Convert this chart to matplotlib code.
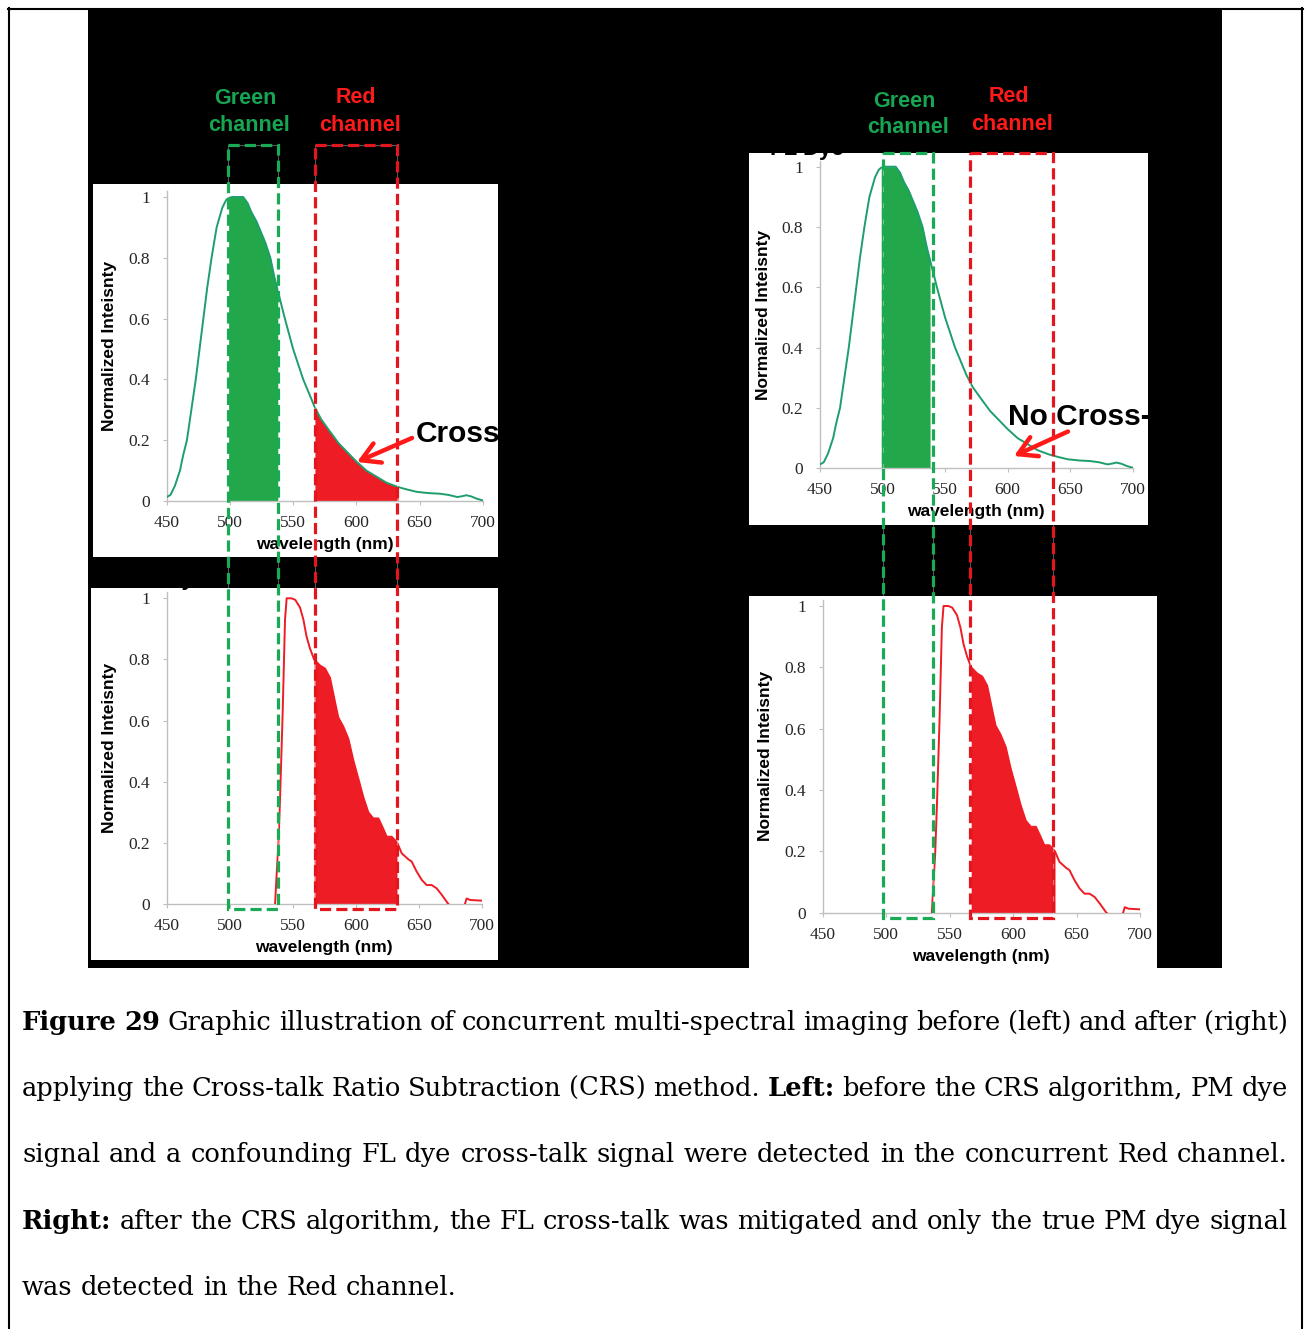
import numpy as np
import matplotlib.pyplot as plt
from matplotlib.patches import Rectangle
from matplotlib.transforms import blended_transform_factory

W, H = 1305, 1329

# FL dye emission (green)
fl_wl = np.array([450, 453, 456.5, 460.5, 463, 466, 469.5, 473, 476, 479, 482, 485.5, 489.5,
                  494, 497, 499, 502, 506, 510.5, 514, 517, 521, 524, 528, 532, 535, 538,
                  543.5, 550, 558, 563, 567, 572, 578, 586, 593, 600, 608, 616, 624, 633,
                  640, 648, 657, 666, 673, 680, 684, 687, 691, 695, 700])
fl_int = np.array([0.013, 0.02, 0.05, 0.10, 0.15, 0.20, 0.30, 0.40, 0.50, 0.60, 0.70, 0.80,
                   0.90, 0.965, 0.99, 0.997, 1.0, 1.0, 1.0, 0.98, 0.95, 0.92, 0.89, 0.85,
                   0.80, 0.74, 0.69, 0.60, 0.50, 0.40, 0.35, 0.31, 0.27, 0.235, 0.19, 0.16,
                   0.13, 0.10, 0.08, 0.06, 0.046, 0.038, 0.03, 0.026, 0.024, 0.02, 0.013,
                   0.016, 0.019, 0.015, 0.008, 0.002])
# PM dye emission (red), bottom panels
pm_wl = np.array([536, 537.3, 538.6, 540, 542, 543.9, 545.2, 549, 552, 555.8, 558.5, 561,
                  563.7, 567, 571.7, 575.7, 579.6, 583.6, 586.2, 590.2, 594.2, 598.1, 602.1,
                  606, 610, 614, 618, 621.4, 624.6, 628.6, 633, 636.5, 641.8, 644.4, 648.4,
                  652.4, 656.3, 660.3, 664.3, 668.3, 673.5, 680, 686, 688, 691, 700])
pm_int = np.array([0.0, 0.10, 0.19, 0.35, 0.62, 0.93, 1.0, 1.0, 0.995, 0.97, 0.93, 0.875,
                   0.836, 0.80, 0.78, 0.77, 0.74, 0.66, 0.61, 0.58, 0.54, 0.47, 0.41, 0.35,
                   0.30, 0.28, 0.28, 0.25, 0.22, 0.22, 0.20, 0.166, 0.146, 0.139, 0.106,
                   0.079, 0.062, 0.062, 0.051, 0.03, 0.0, -0.02, -0.01, 0.018, 0.013, 0.011])

xticks = [450, 500, 550, 600, 650, 700]
yticks = [0, 0.2, 0.4, 0.6, 0.8, 1]
ytick_labels = ['0', '0.2', '0.4', '0.6', '0.8', '1']
green_band = (499, 538)
red_band = (567, 633)
left_boxes = [(498.5, 538), (567, 632.5)]
right_boxes = [(500, 540), (570, 636)]

GREEN_LINE = '#1e9e6c'
GREEN_FILL = '#22a84a'
RED = '#ee1c24'
BOX_GREEN = '#1aaa55'
BOX_RED = '#e3161e'
TXT_GREEN = '#16a552'
TXT_RED = '#ff1a1a'

fig = plt.figure(figsize=(W / 100, H / 100), dpi=100)

def overlay(z):
    a = fig.add_axes([0, 0, 1, 1])
    a.set_xlim(0, W)
    a.set_ylim(H, 0)
    a.axis('off')
    a.set_zorder(z)
    a.patch.set_visible(False)
    return a

bg = overlay(0)
fg = overlay(5)

# frame and black background
bg.add_patch(Rectangle((88, 8), 1134, 960, fc='black', ec='none'))
bg.plot([9, 9], [8, H], color='black', lw=1.5)
bg.plot([1302, 1302], [8, H], color='black', lw=1.5)
bg.plot([8, 1303], [9, 9], color='black', lw=1.5)

panels = {
    'tl': Rectangle((93, 184), 405, 373, fc='white', ec='none'),
    'bl': Rectangle((91, 588), 407, 372, fc='white', ec='none'),
    'tr': Rectangle((749, 153), 399, 372, fc='white', ec='none'),
    'br': Rectangle((749, 596), 408, 372, fc='white', ec='none'),
}
for p in panels.values():
    bg.add_patch(p)

# dye titles hidden behind the black area
bg.text(770, 155, 'FL Dye', color='black', fontsize=16, fontweight='bold',
        family='Liberation Sans', va='baseline', zorder=3)
bg.text(126, 585, 'PM Dye', color='black', fontsize=16, fontweight='bold',
        family='Liberation Sans', va='baseline', zorder=3)


def spectrum_axes(x450, x700, y0, y1, wl, inten, color, fills):
    top = y0 - 1.02 * (y0 - y1)
    ax = fig.add_axes([x450 / W, 1 - y0 / H, (x700 - x450) / W, (y0 - top) / H])
    ax.set_zorder(2)
    ax.patch.set_visible(False)
    for (lo, hi), fc in fills:
        m = (wl >= lo) & (wl <= hi)
        ax.fill_between(wl[m], inten[m], 0, color=fc, lw=0, zorder=2)
    ax.plot(wl, inten, color=color, lw=1.4, zorder=3, solid_joinstyle='round')
    ax.set_xlim(450, 700)
    ax.set_ylim(0, 1.02)
    ax.set_xticks(xticks)
    ax.set_yticks(yticks)
    ax.set_yticklabels(ytick_labels)
    for s in ['top', 'right']:
        ax.spines[s].set_visible(False)
    for s in ['left', 'bottom']:
        ax.spines[s].set_color('#bfbfbf')
        ax.spines[s].set_linewidth(1)
    ax.tick_params(direction='out', length=3, color='#bfbfbf', labelsize=12.5,
                   labelcolor='#262626')
    ax.tick_params(axis='y', pad=9)
    ax.tick_params(axis='x', pad=7)
    for lab in ax.get_xticklabels() + ax.get_yticklabels():
        lab.set_family('Liberation Serif')
    ax.set_ylabel('Normalized Inteisnty', fontsize=12.5, fontweight='bold',
                  family='Liberation Sans')
    ax.set_xlabel('wavelength (nm)', fontsize=12.5, fontweight='bold',
                  family='Liberation Sans')
    ax.yaxis.set_label_coords(-0.158, 0.5)
    ax.xaxis.set_label_coords(0.5, -0.116)
    return ax


ax_tl = spectrum_axes(166.7, 482.7, 501, 197, fl_wl, fl_int, GREEN_LINE,
                      [(green_band, GREEN_FILL), (red_band, RED)])
ax_bl = spectrum_axes(166.7, 481.7, 904, 598.3, pm_wl, pm_int, RED,
                      [(red_band, RED)])
ax_tr = spectrum_axes(820, 1132.7, 468.3, 166.7, fl_wl, fl_int, GREEN_LINE,
                      [(green_band, GREEN_FILL)])
ax_br = spectrum_axes(822.7, 1140, 912.7, 606, pm_wl, pm_int, RED,
                      [(red_band, RED)])

# channel boxes spanning both panels of each column
for ax, bands, ytop, ybot in [(ax_tl, left_boxes, 145, 909), (ax_tr, right_boxes, 153, 918)]:
    tr = blended_transform_factory(ax.transData, fg.transData)
    for (lo, hi), c in zip(bands, [BOX_GREEN, BOX_RED]):
        fg.add_patch(Rectangle((lo, ytop), hi - lo, ybot - ytop, transform=tr, fill=False,
                               ec='white', lw=0.5, alpha=0.5, clip_on=False))
        fg.add_patch(Rectangle((lo, ytop), hi - lo, ybot - ytop, transform=tr, fill=False,
                               ec=c, lw=2.3, ls=(0, (3.5, 1.6)), clip_on=False))

# channel labels
chan_labels = [
    ('Green', 245.7, 103.5, TXT_GREEN), ('channel', 249.4, 131, TXT_GREEN),
    ('Red', 356, 103, TXT_RED), ('channel', 360, 130.7, TXT_RED),
    ('Green', 904, 106.7, TXT_GREEN), ('channel', 908.3, 133.3, TXT_GREEN),
    ('Red', 1009, 102.3, TXT_RED), ('channel', 1012.3, 130, TXT_RED),
]
for s, x, y, c in chan_labels:
    fg.text(x, y, s, color=c, fontsize=15.5, fontweight='bold', family='Liberation Sans',
            ha='center', va='baseline')

# cross-talk annotations
for s, x, y, panel in [('Cross-talk', 416, 441.5, 'tl'), ('No Cross-talk', 1008, 425, 'tr')]:
    t = fg.text(x, y, s, color='black', fontsize=21.5, fontweight='bold',
                family='Liberation Sans', va='baseline')
    t.set_clip_path(panels[panel])

for tail, tip in [((412, 438), (357, 462)), ((1068, 431.5), (1014, 456))]:
    fg.annotate('', xy=tip, xytext=tail,
                arrowprops=dict(arrowstyle='->, head_length=1.3, head_width=0.75',
                                color=TXT_RED, lw=3.2, shrinkA=0, shrinkB=0))

# caption, justified
caption = [
    [('Figure 29', True), ('Graphic illustration of concurrent multi-spectral imaging before (left) and after (right)', False)],
    [('applying the Cross-talk Ratio Subtraction (CRS) method.', False), ('Left:', True),
     ('before the CRS algorithm, PM dye', False)],
    [('signal and a confounding FL dye cross-talk signal were detected in the concurrent Red channel.', False)],
    [('Right:', True), ('after the CRS algorithm, the FL cross-talk was mitigated and only the true PM dye signal', False)],
    [('was detected in the Red channel.', False)],
]
cap_base = [1030, 1096, 1162, 1229, 1295]
cap_x0, cap_x1 = 22, 1288

r = fig.canvas.get_renderer()
fs = 18.5
for i, (line, yb) in enumerate(zip(caption, cap_base)):
    words = [(w, b) for seg, b in line for w in seg.split()]
    arts = [fg.text(0, yb, w, fontsize=fs, family='DejaVu Serif',
                    fontweight='bold' if b else 'normal', va='baseline') for w, b in words]
    widths = [a.get_window_extent(r).width for a in arts]
    if i < len(caption) - 1:
        gap = (cap_x1 - cap_x0 - sum(widths)) / (len(words) - 1)
    else:
        gap = 0.32 * fs * 100 / 72
    x = cap_x0
    for a, w in zip(arts, widths):
        a.set_x(x)
        x += w + gap

fig.savefig('out.png', dpi=100, facecolor='white')
